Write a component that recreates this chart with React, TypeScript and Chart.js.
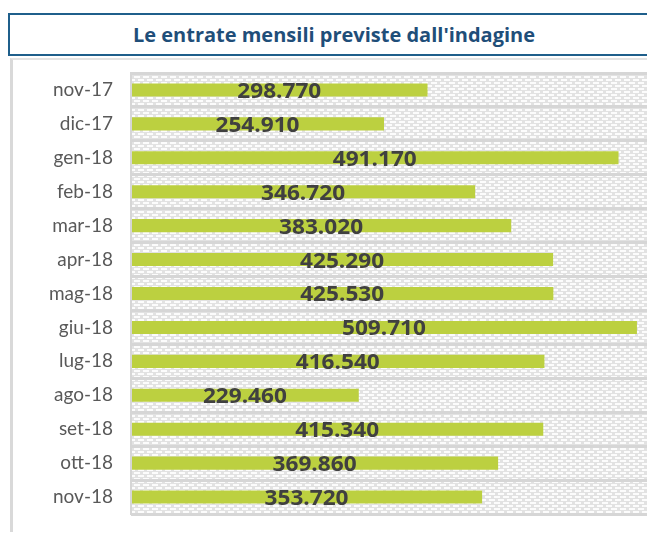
import React, { useEffect, useRef } from "react";
import { Chart, registerables } from "chart.js";

Chart.register(...registerables);

const TITLE = "Le entrate mensili previste dall'indagine";
const MONTHS = [
  "nov-17", "dic-17", "gen-18", "feb-18", "mar-18", "apr-18", "mag-18",
  "giu-18", "lug-18", "ago-18", "set-18", "ott-18", "nov-18",
];
const ENTRATE = [
  298770, 254910, 491170, 346720, 383020, 425290, 425530,
  509710, 416540, 229460, 415340, 369860, 353720,
];
const X_MAX = 540000;

function formatIt(v: number): string {
  const s = Math.round(v).toString();
  return s.replace(/\B(?=(\d{3})+(?!\d))/g, ".");
}

function makePattern(ctx: CanvasRenderingContext2D) {
  const c = document.createElement("canvas");
  c.width = 9;
  c.height = 6;
  const p = c.getContext("2d")!;
  p.fillStyle = "#e2e2e2";
  p.fillRect(0, 0, 9, 6);
  p.fillStyle = "#fcfcfc";
  p.fillRect(0, 0, 6, 2);
  p.fillRect(4, 3, 5, 2);
  p.fillRect(0, 3, 1, 2);
  return ctx.createPattern(c, "repeat");
}

const bgPlugin = {
  id: "bgPattern",
  beforeDraw(chart: any) {
    const { ctx, chartArea } = chart;
    const pat = makePattern(ctx);
    ctx.save();
    ctx.fillStyle = pat || "#ececec";
    ctx.fillRect(chartArea.left, chartArea.top, chartArea.right - chartArea.left, chartArea.bottom - chartArea.top);
    ctx.restore();
  },
};

const labelPlugin = {
  id: "barLabels",
  afterDatasetsDraw(chart: any) {
    const { ctx, chartArea } = chart;
    ctx.save();
    ctx.strokeStyle = "#d6d6d6";
    ctx.lineWidth = 2;
    ctx.beginPath();
    ctx.moveTo(chartArea.left, chartArea.top - 1);
    ctx.lineTo(chartArea.left, chartArea.bottom + 1);
    ctx.stroke();
    ctx.restore();

    const meta = chart.getDatasetMeta(0);
    const data = chart.data.datasets[0].data as number[];
    ctx.save();
    ctx.font = 'bold 21px "Open Sans", sans-serif';
    ctx.fillStyle = "#404040";
    ctx.textAlign = "center";
    ctx.textBaseline = "middle";
    const refW = ctx.measureText("298.770").width || 84;
    const sx = 84 / refW;
    meta.data.forEach((bar: any, i: number) => {
      const cx = (bar.x + bar.base) / 2;
      ctx.save();
      ctx.translate(cx, bar.y + 2);
      ctx.scale(sx, 1);
      ctx.fillText(formatIt(data[i]), 0, 0);
      ctx.restore();
    });
    ctx.restore();
  },
};

export default function App() {
  const ref = useRef<HTMLCanvasElement | null>(null);

  useEffect(() => {
    document.documentElement.style.overflow = "hidden";
    document.body.style.overflow = "hidden";
    if (!ref.current) return;
    const chart = new Chart(ref.current, {
      type: "bar",
      data: {
        labels: MONTHS,
        datasets: [
          {
            data: ENTRATE,
            backgroundColor: "#bcd040",
            borderWidth: 0,
            categoryPercentage: 1,
            barPercentage: 0.385,
          },
        ],
      },
      options: {
        indexAxis: "y",
        responsive: false,
        animation: false,
        devicePixelRatio: 1,
        layout: { padding: { top: 15, bottom: 18, left: 0, right: 0 } },
        plugins: {
          legend: { display: false },
          tooltip: { enabled: false },
          title: { display: false },
        },
        scales: {
          x: {
            display: false,
            min: 0,
            max: X_MAX,
          },
          y: {
            border: { display: false },
            grid: {
              color: "#d6d6d6",
              lineWidth: 3,
              drawTicks: false,
              offset: true,
            },
            ticks: {
              color: "#595959",
              padding: 18,
              font: { family: "Lato", size: 19 },
            },
            afterFit(scale: any) {
              scale.width = 123;
              scale.paddingTop = 0;
              scale.paddingBottom = 0;
            },
          },
        },
      },
      plugins: [bgPlugin, labelPlugin],
    });
    return () => chart.destroy();
  }, []);

  return (
    <div style={{ position: "relative", width: 647, height: 524, overflow: "hidden" }}>
      <div
        style={{
          position: "absolute",
          left: 0,
          top: 5,
          width: 652,
          height: 43,
          boxSizing: "border-box",
          border: "2px solid #1f5f8b",
          display: "flex",
          alignItems: "center",
          justifyContent: "center",
          fontFamily: "'Open Sans'",
          fontWeight: 700,
          fontSize: 20,
          color: "#1f4e79",
        }}
      >
        {TITLE}
      </div>
      <div
        style={{
          position: "absolute",
          left: 2,
          top: 50,
          width: 700,
          height: 520,
          boxSizing: "border-box",
          borderLeft: "3px solid #d9d9d9",
          borderTop: "2px solid #e3e3e3",
        }}
      />
      <canvas
        ref={ref}
        width={659}
        height={474}
        style={{ position: "absolute", left: 0, top: 50, width: 659, height: 474 }}
      />
    </div>
  );
}
